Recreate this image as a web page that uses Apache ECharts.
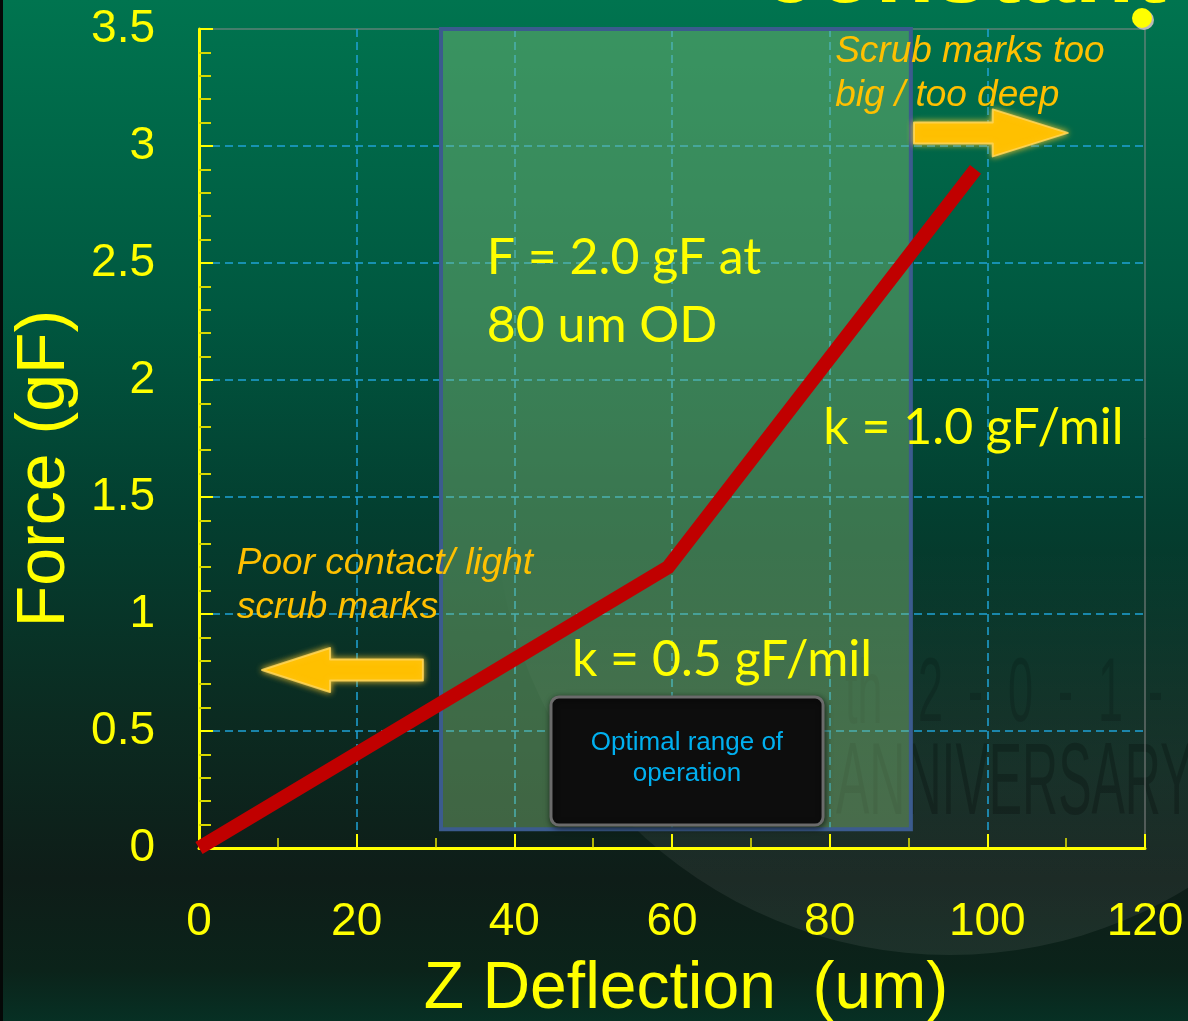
<!DOCTYPE html>
<html>
<head>
<meta charset="utf-8">
<title>Force vs Z Deflection</title>
<script src="https://cdn.jsdelivr.net/npm/echarts@6/dist/echarts.min.js"></script>
<style>
  html, body { margin: 0; padding: 0; background: #0b2a20; }
  #main { width: 1188px; height: 1021px; }
</style>
</head>
<body>
<div id="main"></div>
<script>
// Probe response: deflection (um) against contact force (gF)
const deflection = [0, 59.5, 98.5];
const force = [0, 1.2, 2.9];

// Axis ranges
const xRange = [0, 120];
const yRange = [0, 3.5];

// Recommended operating window (x: um, y: gF)
const zoneX = [30.7, 90.3];
const zoneY = [0.08, 3.51];

// Annotation texts
const noteFormula = 'F = 2.0 gF at\n80 um OD';
const noteSlopeHigh = 'k = 1.0 gF/mil';
const noteSlopeLow = 'k = 0.5 gF/mil';
const noteTooDeep = 'Scrub marks too\nbig / too deep';
const noteTooLight = 'Poor contact/ light\nscrub marks';
const noteOptimal = 'Optimal range of\noperation';

const YELLOW = '#ffff00';
const ORANGE = '#ffc000';
const SANS = '"Liberation Sans", Arial, sans-serif';
const CAL = 'Lato, "Open Sans", sans-serif';

const chart = echarts.init(document.getElementById('main'));

const option = {
  animation: false,
  backgroundColor: new echarts.graphic.LinearGradient(0, 0, 0, 1, [
    { offset: 0, color: '#00744f' },
    { offset: 0.3, color: '#005840' },
    { offset: 0.5, color: '#033f30' },
    { offset: 0.7, color: '#0b2b21' },
    { offset: 0.86, color: '#0e1d18' },
    { offset: 0.95, color: '#0b231a' },
    { offset: 1, color: '#073024' }
  ]),
  grid: {
    left: 199, right: 43, top: 29, bottom: 173,
    outerBoundsMode: 'none',
    show: true, borderColor: '#8a8a8a', borderWidth: 1,
    backgroundColor: 'transparent'
  },
  xAxis: {
    type: 'value',
    min: xRange[0], max: xRange[1], interval: 20,
    name: 'Z Deflection  (um)',
    nameLocation: 'middle',
    nameGap: 109,
    nameTextStyle: { color: YELLOW, fontSize: 66, fontFamily: SANS, padding: [0, 0, 0, 28] },
    axisLine: { show: true, onZero: false, lineStyle: { color: YELLOW, width: 3 } },
    axisTick: { show: true, inside: true, length: 14, lineStyle: { color: YELLOW, width: 2 } },
    minorTick: { show: true, splitNumber: 2, length: 10, lineStyle: { color: '#e8e800', width: 1.5 } },
    axisLabel: { color: YELLOW, fontSize: 46, fontFamily: SANS, margin: 51 },
    splitLine: {
      show: true, showMinLine: false, showMaxLine: false,
      lineStyle: { color: '#1fa3d6', width: 1.5, type: [8, 5] }
    }
  },
  yAxis: {
    type: 'value',
    min: yRange[0], max: yRange[1], interval: 0.5,
    name: 'Force (gF)',
    nameLocation: 'middle',
    nameGap: 120,
    nameTextStyle: { color: YELLOW, fontSize: 68, fontFamily: SANS, padding: [0, 60, 0, 0] },
    axisLine: { show: true, onZero: false, lineStyle: { color: YELLOW, width: 3 } },
    axisTick: { show: true, inside: true, length: 14, lineStyle: { color: YELLOW, width: 2 } },
    minorTick: { show: true, splitNumber: 5, length: 12, lineStyle: { color: '#d8d800', width: 2 } },
    axisLabel: { color: YELLOW, fontSize: 46, fontFamily: SANS, margin: 44 },
    splitLine: {
      show: true, showMinLine: false, showMaxLine: false,
      lineStyle: { color: '#1fa3d6', width: 1.5, type: [8, 5] }
    }
  },
  series: [
    {
      name: 'zone',
      type: 'line',
      data: [[zoneX[0], zoneY[0]]],
      showSymbol: false,
      symbol: 'none',
      lineStyle: { width: 0 },
      z: 3,
      clip: false,
      markArea: {
        silent: true,
        itemStyle: {
          color: 'rgba(135, 195, 125, 0.42)',
          borderColor: '#3b5b8e',
          borderWidth: 4
        },
        data: [[{ coord: [zoneX[0], zoneY[0]] }, { coord: [zoneX[1], zoneY[1]] }]]
      }
    },
    {
      name: 'Force',
      type: 'line',
      data: deflection.map((d, i) => [d, force[i]]),
      symbol: 'none',
      clip: false,
      z: 6,
      lineStyle: { color: '#c00000', width: 14, cap: 'butt', join: 'miter' }
    }
  ]
};

chart.setOption(option);

// Helpers that place decorations through the chart's own coordinate system
const px = (x, y) => chart.convertToPixel({ gridIndex: 0 }, [x, y]);

function blockArrow(tail, tip, headLen, bodyHalf, headHalf) {
  const [x1, y] = px(tail[0], tail[1]);
  const [x2] = px(tip[0], tip[1]);
  const dir = Math.sign(x2 - x1);
  const xb = x2 - dir * headLen;
  return {
    type: 'polygon',
    z: 20,
    shape: {
      points: [
        [x1, y - bodyHalf], [xb, y - bodyHalf], [xb, y - headHalf],
        [x2, y], [xb, y + headHalf], [xb, y + bodyHalf], [x1, y + bodyHalf]
      ]
    },
    style: {
      fill: ORANGE,
      stroke: 'rgba(255, 214, 90, 0.85)',
      lineWidth: 2,
      lineJoin: 'round',
      shadowBlur: 6,
      shadowColor: 'rgba(255, 200, 40, 0.9)'
    }
  };
}

function note(text, at, font, color, lineHeight, align) {
  const [x, y] = px(at[0], at[1]);
  return {
    type: 'text',
    z: 22,
    style: {
      text: text, x: x, y: y,
      font: font, fill: color,
      lineHeight: lineHeight,
      align: align || 'left',
      verticalAlign: 'middle'
    }
  };
}

const boxA = px(44.65, 0.645);
const boxB = px(79.16, 0.098);

const graphics = [
  // faint ring of the backdrop logo, only showing in the lower part
  {
    type: 'circle', z: -1, silent: true,
    shape: { cx: 950, cy: 500, r: 455 },
    style: {
      fill: new echarts.graphic.LinearGradient(0, 0, 0, 1, [
        { offset: 0, color: 'rgba(255,255,255,0)' },
        { offset: 0.55, color: 'rgba(255,255,255,0)' },
        { offset: 0.8, color: 'rgba(255,255,255,0.05)' },
        { offset: 1, color: 'rgba(255,255,255,0.07)' }
      ])
    }
  },
  // faint watermark lettering
  {
    type: 'text', z: -1, silent: true, x: 845, y: 698, scaleX: 0.5,
    style: { text: 'th', font: '90px ' + SANS, fill: 'rgba(0,0,0,0.14)', verticalAlign: 'middle' }
  },
  {
    type: 'text', z: -1, silent: true, x: 918, y: 696, scaleX: 0.5,
    style: { text: '2  -  0  -  1  -  0', font: '90px ' + SANS, fill: 'rgba(0,0,0,0.14)', verticalAlign: 'middle' }
  },
  {
    type: 'text', z: -1, silent: true, x: 836, y: 786, scaleX: 0.49,
    style: { text: 'ANNIVERSARY', font: '102px ' + SANS, fill: 'rgba(0,0,0,0.22)', verticalAlign: 'middle' }
  },
  // thin dark edge on the left
  {
    type: 'rect', z: -1, silent: true,
    shape: { x: 0, y: 0, width: 3, height: 1021 },
    style: { fill: '#050807' }
  },
  // heading text running off the top edge
  {
    type: 'text', z: 25, silent: true,
    style: {
      text: 'constant', x: 762, y: -25,
      font: 'bold 97px ' + SANS, fill: YELLOW,
      verticalAlign: 'middle',
      textShadowColor: '#b9b9b9', textShadowOffsetX: 3, textShadowOffsetY: 4, textShadowBlur: 0
    }
  },
  {
    type: 'circle', z: 25, silent: true,
    shape: { cx: 1142, cy: 18, r: 10 },
    style: { fill: YELLOW, shadowColor: '#b9b9b9', shadowOffsetX: 2, shadowOffsetY: 2, shadowBlur: 0 }
  },
  // direction arrows
  blockArrow([90.7, 3.056], [110.2, 3.056], 75, 10.5, 23.5),
  blockArrow([28.4, 0.761], [8.0, 0.761], 68, 10.5, 22),
  // label box for the operating window
  {
    type: 'rect', z: 18,
    shape: { x: boxA[0], y: boxA[1], width: boxB[0] - boxA[0], height: boxB[1] - boxA[1], r: 8 },
    style: {
      fill: '#0d0d0d', stroke: '#6b6b6b', lineWidth: 3,
      shadowBlur: 6, shadowColor: 'rgba(0,0,0,0.6)', shadowOffsetX: 1, shadowOffsetY: 2
    }
  },
  note(noteOptimal, [61.9, 0.382], '26px ' + SANS, '#00b0f0', 31, 'center'),
  note(noteFormula, [36.5, 2.378], '50px ' + CAL, YELLOW, 68),
  note(noteSlopeHigh, [79.2, 1.795], '50px ' + CAL, YELLOW, 68),
  note(noteSlopeLow, [47.3, 0.803], '50px ' + CAL, YELLOW, 68),
  note(noteTooDeep, [80.7, 3.31], 'italic 37px ' + SANS, ORANGE, 44),
  note(noteTooLight, [4.8, 1.122], 'italic 37px ' + SANS, ORANGE, 44)
];

chart.setOption({ graphic: graphics });
</script>
</body>
</html>
